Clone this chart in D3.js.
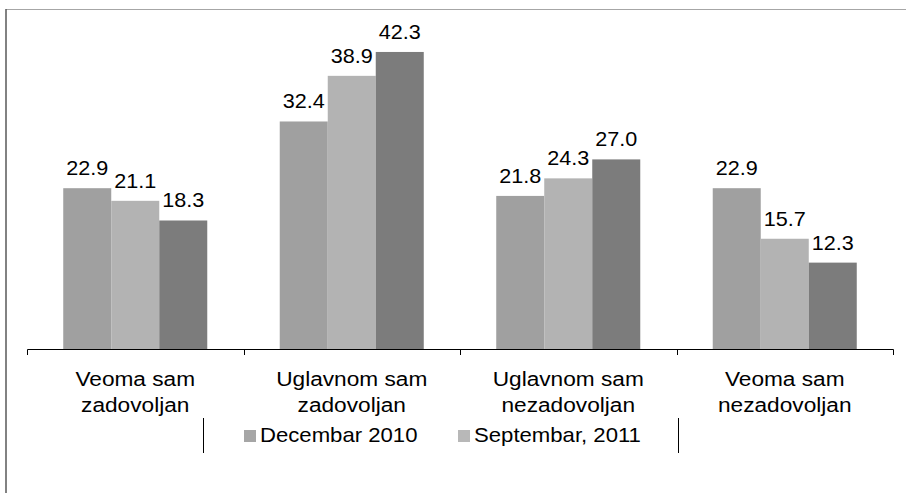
<!DOCTYPE html>
<html>
<head>
<meta charset="utf-8">
<script src="https://cdn.jsdelivr.net/npm/d3@7"></script>
<style>
  body { margin: 0; background: #fff; }
  text { font-family: Arial, "Liberation Sans", sans-serif; fill: #000; }
</style>
</head>
<body>
<div id="chart"></div>
<script>
// data
const categories = [
    ['Veoma sam', 'zadovoljan'],
    ['Uglavnom sam', 'zadovoljan'],
    ['Uglavnom sam', 'nezadovoljan'],
    ['Veoma sam', 'nezadovoljan']
];
const seriesNames = ['Decembar 2010', 'Septembar, 2011', 'Mart 2012'];
const dec2010 = [22.9, 32.4, 21.8, 22.9];
const sep2011 = [21.1, 38.9, 24.3, 15.7];
const series3 = [18.3, 42.3, 27.0, 12.3];
const yDomain = [0, 45];

const barColors = ['#a0a0a0', '#b3b3b3', '#7c7c7c'];
const legendColors = ['#a6a6a6', '#b8b8b8'];

const W = 906, H = 493;
const stretch = 1.08; // text in the picture looks slightly widened

const svg = d3.select('#chart')
    .append('svg')
    .attr('width', W)
    .attr('height', H);

// frame of the chart area (only top and left edges visible)
svg.append('line')
    .attr('x1', 6).attr('x2', W).attr('y1', 9.5).attr('y2', 9.5)
    .attr('stroke', '#a6a6a6').attr('stroke-width', 1);
svg.append('line')
    .attr('x1', 6).attr('x2', 6).attr('y1', 9).attr('y2', H)
    .attr('stroke', '#595959').attr('stroke-width', 1.5);

const keys = categories.map(c => c.join(' '));
const values = [dec2010, sep2011, series3];

const x = d3.scaleBand()
    .domain(keys)
    .range([27, 893])
    .paddingInner(0)
    .paddingOuter(0);

const xs = d3.scaleBand()
    .domain(seriesNames)
    .range([0, x.bandwidth()])
    .paddingInner(0)
    .paddingOuter(0.755);

const y = d3.scaleLinear()
    .domain(yDomain)
    .range([349, 33]);

// bars
const groups = svg.selectAll('.grp')
    .data(keys)
    .enter().append('g')
    .attr('class', 'grp')
    .attr('transform', d => `translate(${x(d)},0)`);

groups.selectAll('rect')
    .data((d, i) => seriesNames.map((s, j) => ({ s, j, v: values[j][i] })))
    .enter().append('rect')
    .attr('x', d => xs(d.s))
    .attr('y', d => y(d.v))
    .attr('width', xs.bandwidth())
    .attr('height', d => y(0) - y(d.v))
    .attr('fill', d => barColors[d.j]);

// value labels
groups.selectAll('.lbl')
    .data((d, i) => seriesNames.map((s, j) => ({ s, j, v: values[j][i] })))
    .enter().append('text')
    .attr('class', 'lbl')
    .attr('transform', d => `translate(${xs(d.s) + xs.bandwidth() / 2},${y(d.v) - 13}) scale(${stretch},1)`)
    .attr('text-anchor', 'middle')
    .attr('font-size', '20px')
    .text(d => d.v.toFixed(1));

// x axis: baseline plus ticks at category boundaries
svg.append('g')
    .attr('transform', `translate(0,${y(0)})`)
    .call(d3.axisBottom(x).tickSize(0).tickSizeOuter(6).tickFormat(''))
    .call(g => g.select('.domain').attr('stroke', '#000').attr('stroke-width', 1));

svg.selectAll('.btick')
    .data(keys.slice(1))
    .enter().append('line')
    .attr('class', 'btick')
    .attr('x1', d => Math.round(x(d)) + 0.5)
    .attr('x2', d => Math.round(x(d)) + 0.5)
    .attr('y1', y(0))
    .attr('y2', y(0) + 6)
    .attr('stroke', '#000');

// category labels (two lines)
const cat = svg.selectAll('.cat')
    .data(categories)
    .enter().append('g')
    .attr('class', 'cat');

cat.each(function(d, i) {
    const cx = x(keys[i]) + x.bandwidth() / 2;
    d.forEach((line, k) => {
        d3.select(this).append('text')
            .attr('transform', `translate(${cx},${386 + k * 26}) scale(${stretch},1)`)
            .attr('text-anchor', 'middle')
            .attr('font-size', '21px')
            .text(line);
    });
});

// legend (clipped box: only the side edges show)
const legend = svg.append('g');
[203, 678].forEach(lx => {
    legend.append('line')
        .attr('x1', lx + 0.5).attr('x2', lx + 0.5)
        .attr('y1', 418).attr('y2', 453)
        .attr('stroke', '#000');
});

const legendX = [244, 458];
seriesNames.slice(0, 2).forEach((s, i) => {
    legend.append('rect')
        .attr('x', legendX[i]).attr('y', 430)
        .attr('width', 12).attr('height', 12)
        .attr('fill', legendColors[i]);
    legend.append('text')
        .attr('transform', `translate(${legendX[i] + 16},442) scale(${stretch},1)`)
        .attr('font-size', '20.5px')
        .text(s);
});
</script>
</body>
</html>
